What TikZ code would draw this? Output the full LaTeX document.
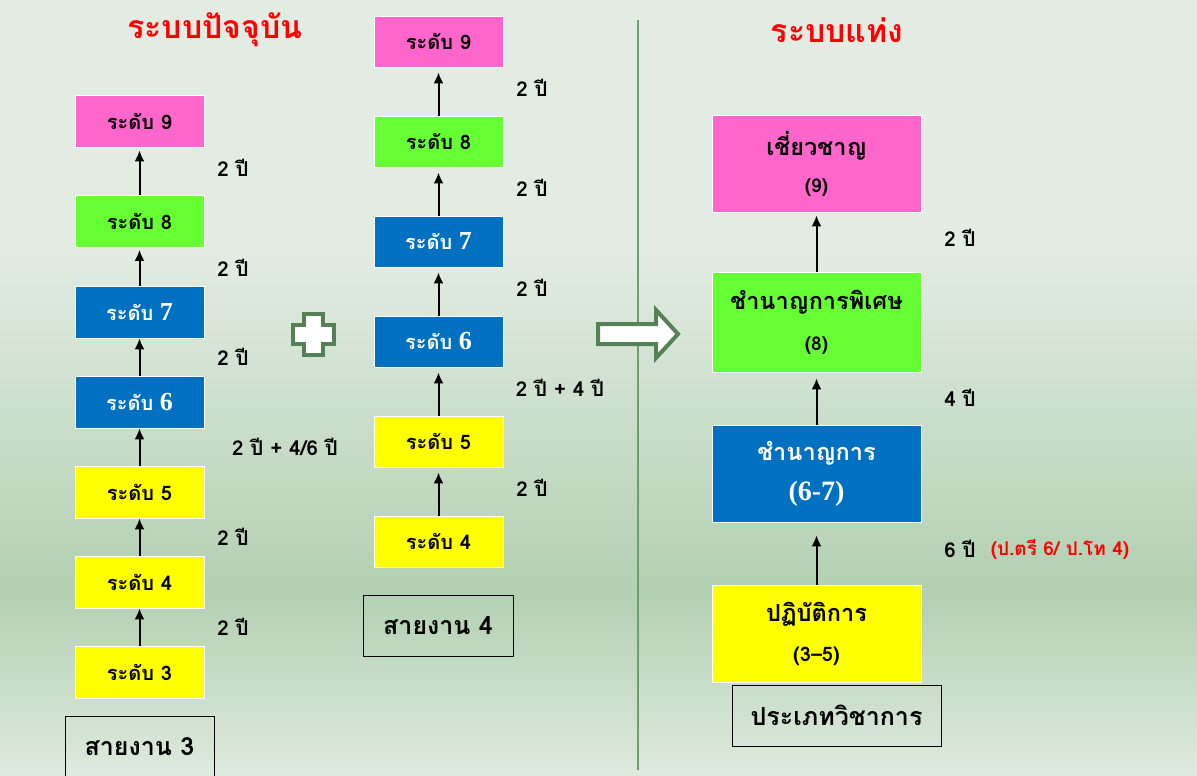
\documentclass[tikz,border=0pt]{standalone}
\usepackage{fontspec}
\setmainfont{Loma}[Script=Thai]
\newfontfamily\numserif{Liberation Serif}
\definecolor{bgtop}{RGB}{227,236,227}
\definecolor{bgmid}{RGB}{178,208,178}
\definecolor{bgbot}{RGB}{222,234,222}
\definecolor{lvpink}{RGB}{255,102,204}
\definecolor{lvgreen}{RGB}{102,255,51}
\definecolor{lvblue}{RGB}{0,112,192}
\definecolor{lvyellow}{RGB}{255,255,0}
\definecolor{darkgreen}{RGB}{86,128,86}
\definecolor{linegreen}{RGB}{110,160,110}
\begin{document}
\begin{tikzpicture}[x=1pt,y=-1pt,
  lvl/.style={draw=white, line width=0.8pt, minimum width=129pt, minimum height=52pt, inner sep=0pt, font=\bfseries\fontsize{20}{22}\selectfont},
  big/.style={draw=white, line width=0.8pt, minimum width=209pt, minimum height=97pt, inner sep=0pt, align=center, font=\bfseries\fontsize{23.5}{30}\selectfont},
  pinkbox/.style={fill=lvpink},
  greenbox/.style={fill=lvgreen},
  bluebox/.style={fill=lvblue, text=white},
  yellowbox/.style={fill=lvyellow},
  linebox/.style={draw=black, line width=1pt, inner sep=0pt, font=\bfseries\fontsize{25}{28}\selectfont},
  yr/.style={font=\bfseries\fontsize{20.5}{22}\selectfont},
  note/.style={font=\bfseries\fontsize{19}{22}\selectfont, text=red},
  title/.style={font=\bfseries\fontsize{32}{36}\selectfont, text=red},
  up/.style={-{Latex[length=11pt,width=10pt]}, line width=2pt},
  sign/.style={draw=darkgreen, line width=4pt, fill=white, line join=miter}]
\usetikzlibrary{arrows.meta}
\fill[bgtop] (0,0) rectangle (1197,250);
\shade[top color=bgtop, bottom color=bgmid] (0,250) rectangle (1197,590);
\shade[top color=bgmid, bottom color=bgbot] (0,590) rectangle (1197,776);
\useasboundingbox (0,0) rectangle (1197,776);
\clip (0,0) rectangle (1197,776);

\node[title] (tnow) at (215,30) {ระบบปัจจุบัน};
\node[title] (tnew) at (837,30) {ระบบแท่ง};
\draw[linegreen, line width=1.2pt] (638,20) -- (638,770);

\node[lvl, pinkbox] (l9) at (139.5,121) {ระดับ 9};
\node[lvl, greenbox] (l8) at (139.5,221.5) {ระดับ 8};
\node[lvl, bluebox] (l7) at (139.5,312) {ระดับ {\numserif\fontsize{26}{26}\selectfont 7}};
\node[lvl, bluebox] (l6) at (139.5,402) {ระดับ {\numserif\fontsize{26}{26}\selectfont 6}};
\node[lvl, yellowbox] (l5) at (139.5,492) {ระดับ 5};
\node[lvl, yellowbox] (l4) at (139.5,582) {ระดับ 4};
\node[lvl, yellowbox] (l3) at (139.5,672) {ระดับ 3};
\node[linebox, minimum width=149pt, minimum height=62pt] (l0) at (139.5,747) {สายงาน 3};
\draw[up] (l3.north) -- (l4.south);
\draw[up] (l4.north) -- (l5.south);
\draw[up] (l5.north) -- (l6.south);
\draw[up] (l6.north) -- (l7.south);
\draw[up, shorten >=2pt] (l7.north) -- (l8.south);
\draw[up, shorten >=3pt] (l8.north) -- (l9.south);
\node[yr] (ly1) at (233,168) {2 ปี};
\node[yr] (ly2) at (233,268) {2 ปี};
\node[yr] (ly3) at (233,357) {2 ปี};
\node[yr] (ly4) at (285,447) {2 ปี + 4/6 ปี};
\node[yr] (ly5) at (233,537) {2 ปี};
\node[yr] (ly6) at (233,627) {2 ปี};

\draw[sign, shift={(313.5,334)}] (-9.5,-20.5) -- (9.5,-20.5) -- (9.5,-9.5) -- (20.5,-9.5) -- (20.5,9.5) -- (9.5,9.5) -- (9.5,20.5) -- (-9.5,20.5) -- (-9.5,9.5) -- (-20.5,9.5) -- (-20.5,-9.5) -- (-9.5,-9.5) -- cycle;

\node[lvl, pinkbox, minimum height=51pt] (m9) at (438.5,41.5) {ระดับ 9};
\node[lvl, greenbox, minimum height=51pt] (m8) at (438.5,141.5) {ระดับ 8};
\node[lvl, bluebox, minimum height=51pt] (m7) at (438.5,241.5) {ระดับ {\numserif\fontsize{26}{26}\selectfont 7}};
\node[lvl, bluebox, minimum height=51pt] (m6) at (438.5,341.5) {ระดับ {\numserif\fontsize{26}{26}\selectfont 6}};
\node[lvl, yellowbox, minimum height=51pt] (m5) at (438.5,441.5) {ระดับ 5};
\node[lvl, yellowbox, minimum height=51pt] (m4) at (438.5,541.5) {ระดับ 4};
\node[linebox, minimum width=150pt, minimum height=61pt] (m0) at (438,625.5) {สายงาน 4};
\draw[up, shorten >=5pt] (m4.north) -- (m5.south);
\draw[up, shorten >=5pt] (m5.north) -- (m6.south);
\draw[up, shorten >=5pt] (m6.north) -- (m7.south);
\draw[up, shorten >=5pt] (m7.north) -- (m8.south);
\draw[up, shorten >=5pt] (m8.north) -- (m9.south);
\node[yr] (my1) at (532,88) {2 ปี};
\node[yr] (my2) at (532,188) {2 ปี};
\node[yr] (my3) at (532,288) {2 ปี};
\node[yr] (my4) at (560,388) {2 ปี + 4 ปี};
\node[yr] (my5) at (532,488) {2 ปี};

\draw[sign] (598,324) -- (656,324) -- (656,310) -- (678,334) -- (656,358) -- (656,344) -- (598,344) -- cycle;

\node[big, pinkbox] (r4) at (816.5,163.5) {เชี่ยวชาญ\\[7pt]{\fontsize{19}{20}\selectfont (9)}};
\node[big, greenbox, minimum height=100pt] (r3) at (816.5,322) {ชำนาญการพิเศษ\\[11pt]{\fontsize{19}{20}\selectfont (8)}};
\node[big, bluebox] (r2) at (816.5,473.5) {ชำนาญการ\\[10pt]{\numserif\fontsize{28}{28}\selectfont (6-7)}};
\node[big, yellowbox] (r1) at (816.5,633.5) {ปฏิบัติการ\\[10pt]{\fontsize{20}{20}\selectfont (3–5)}};
\node[linebox, minimum width=209pt, minimum height=61pt] (r0) at (836.5,715.5) {ประเภทวิชาการ};
\draw[up, shorten >=13pt] (r1.north) -- (r2.south);
\draw[up, shorten >=6pt] (r2.north) -- (r3.south);
\draw[up, shorten >=3pt] (r3.north) -- (r4.south);
\node[yr] (ry1) at (960,238) {2 ปี};
\node[yr] (ry2) at (960,398) {4 ปี};
\node[yr] (ry3) at (960,549) {6 ปี};
\node[note] (rn) at (1060,549) {(ป.ตรี 6/ ป.โท 4)};
\end{tikzpicture}
\end{document}
